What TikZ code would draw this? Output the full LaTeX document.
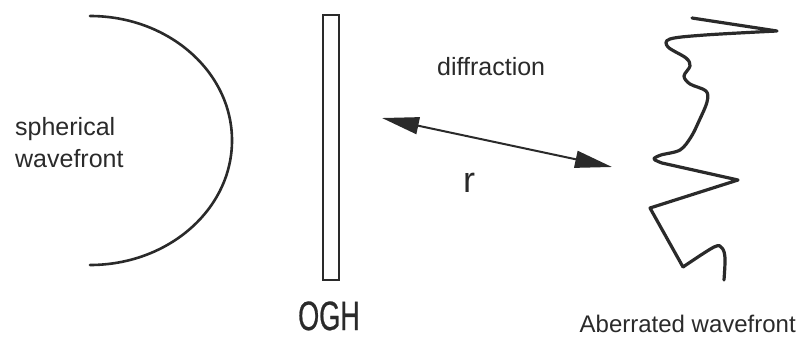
\documentclass[tikz,border=0pt]{standalone}
\usepackage{fontspec}
\setmainfont{Liberation Sans}
\newfontfamily\condfont[FakeStretch=0.66,FakeBold=0.6]{Liberation Sans}
\usetikzlibrary{arrows.meta}
\definecolor{ink}{HTML}{2A2A2A}
\begin{document}
\begin{tikzpicture}[x=1pt,y=-1pt,
  lbl/.style={inner sep=0pt,text=ink,font=\fontsize{25}{32}\selectfont},
  curve/.style={draw=ink,line width=3pt,line cap=round,line join=round},
  dbl/.style={draw=ink,line width=2pt,{Triangle[length=37pt,width=17pt]}-{Triangle[length=37pt,width=17pt]}}]
\useasboundingbox (0,0) rectangle (798,338);
% spherical wavefront
\draw[curve,line width=2.6pt] (90,265) arc[start angle=90,end angle=-90,x radius=142,y radius=124.5];
\node[lbl,anchor=north west,align=left] (sph) at (15,117) {spherical\\wavefront};
% OGH plate
\node[draw=ink,line width=2pt,minimum width=16pt,minimum height=265pt,inner sep=0pt] (plate) at (331,147.5) {};
\node[inner sep=0pt,anchor=base,text=ink,font=\condfont\fontsize{41}{41}\selectfont] (ogh) at (329,330) {OGH};
% diffraction arrow
\coordinate (a1) at (382,118);
\coordinate (a2) at (612,167);
\draw[dbl] (a1) -- (a2);
\node[lbl,anchor=base west] (dif) at (437,75) {diffraction};
\node[lbl,anchor=base west,font=\fontsize{36}{36}\selectfont] (r) at (463,192) {r};
% aberrated wavefront
\draw[curve,line width=3.2pt] (692,18) -- (777,31)
  plot[smooth,tension=0.55] coordinates {(777,31) (705,35) (670,39) (668,47) (686,58) (690,66) (684,76) (690,84) (706,91) (707,102) (699,121) (691,137) (680,150) (661,155) (654,159) (662,163)}
  -- (738,180) -- (650,208) -- (683,267)
  plot[smooth,tension=0.55] coordinates {(683,267) (714,247) (722,248) (725,258) (724,280)};
\node[lbl,anchor=base east,font=\fontsize{24}{24}\selectfont] (abw) at (796,332) {Aberrated wavefront};
\end{tikzpicture}
\end{document}
